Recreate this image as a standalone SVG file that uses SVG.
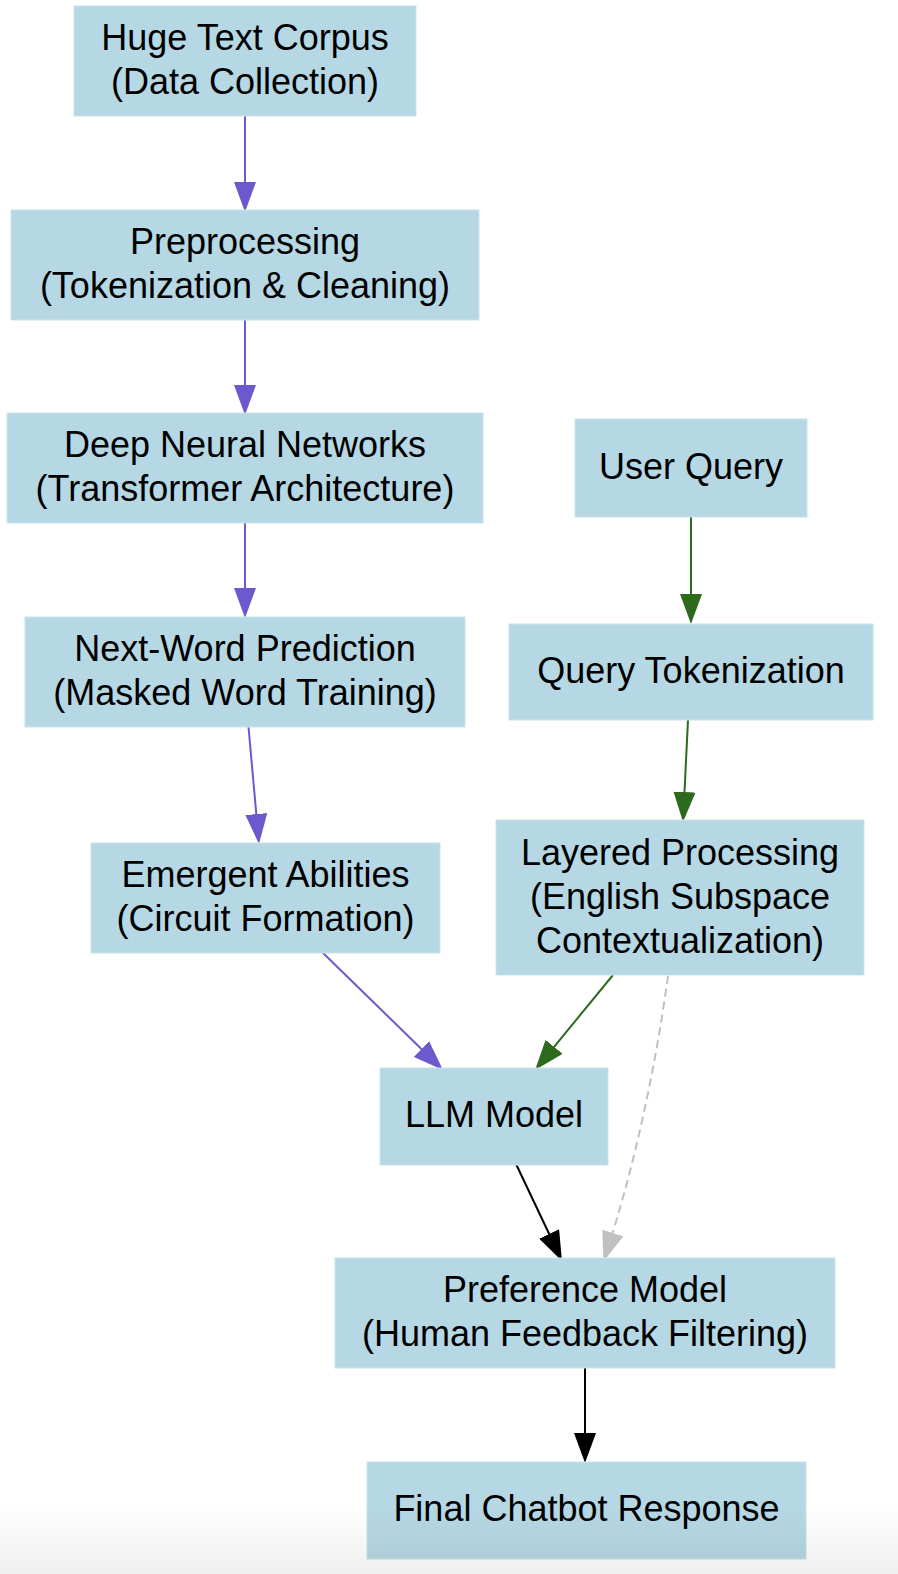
<svg xmlns="http://www.w3.org/2000/svg" width="898" height="1574" viewBox="0 0 898 1574">
  <defs>
    <style>
      .node rect { fill: #b6d8e4; stroke: #c9e3ec; stroke-width: 1; }
      .node text { font-family: "Liberation Sans", Arial, Helvetica, sans-serif; font-size: 36px; fill: #000; text-anchor: middle; }
      .edge { fill: none; stroke-width: 2; }
      .train { stroke: #6a5acd; }
      .query { stroke: #2e6a1e; }
      .plain { stroke: #000; }
      .hint { stroke: #c0c0c0; stroke-dasharray: 8 5; }
    </style>
    <marker id="ah-train" viewBox="0 -11 30 22" markerUnits="userSpaceOnUse" markerWidth="30" markerHeight="22" refX="20" refY="0" orient="auto">
      <path d="M0,-11 L30,0 L0,11 z" fill="#6a5acd"/>
    </marker>
    <marker id="ah-query" viewBox="0 -11 30 22" markerUnits="userSpaceOnUse" markerWidth="30" markerHeight="22" refX="20" refY="0" orient="auto">
      <path d="M0,-11 L30,0 L0,11 z" fill="#2e6a1e"/>
    </marker>
    <marker id="ah-plain" viewBox="0 -11 30 22" markerUnits="userSpaceOnUse" markerWidth="30" markerHeight="22" refX="20" refY="0" orient="auto">
      <path d="M0,-11 L30,0 L0,11 z" fill="#000"/>
    </marker>
    <marker id="ah-hint" viewBox="0 -11 30 22" markerUnits="userSpaceOnUse" markerWidth="30" markerHeight="22" refX="20" refY="0" orient="auto">
      <path d="M0,-11 L30,0 L0,11 z" fill="#c0c0c0"/>
    </marker>
    <linearGradient id="fade" x1="0" y1="0" x2="0" y2="1">
      <stop offset="0" stop-color="#000" stop-opacity="0"/>
      <stop offset="1" stop-color="#000" stop-opacity="0.065"/>
    </linearGradient>
  </defs>

  <rect x="0" y="0" width="898" height="1574" fill="#ffffff"/>

  <!-- connectors -->
  <g id="edges">
    <path class="edge train" d="M245,116 L245,202" marker-end="url(#ah-train)"/>
    <path class="edge train" d="M245,320 L245,405" marker-end="url(#ah-train)"/>
    <path class="edge train" d="M245,523 L245,608" marker-end="url(#ah-train)"/>
    <path class="edge train" d="M248.5,727 L258.1,834" marker-end="url(#ah-train)"/>
    <path class="edge train" d="M322,952 L435.8,1063" marker-end="url(#ah-train)"/>
    <path class="edge query" d="M691,517 L691,614" marker-end="url(#ah-query)"/>
    <path class="edge query" d="M688,720 L683.5,812" marker-end="url(#ah-query)"/>
    <path class="edge query" d="M613,975 L541.4,1062.3" marker-end="url(#ah-query)"/>
    <path class="edge hint" d="M668,976 C655.8,1066 634.5,1166.5 606.6,1252" marker-end="url(#ah-hint)"/>
    <path class="edge plain" d="M516.5,1165 L557.7,1252" marker-end="url(#ah-plain)"/>
    <path class="edge plain" d="M585,1368 L585,1453" marker-end="url(#ah-plain)"/>
  </g>

  <!-- training pipeline -->
  <g id="corpus" class="node">
    <rect x="74" y="6" width="342" height="110"/>
    <text x="245" y="49.5">Huge Text Corpus</text>
    <text x="245" y="93.5">(Data Collection)</text>
  </g>
  <g id="preprocessing" class="node">
    <rect x="11" y="210" width="468" height="110"/>
    <text x="245" y="253.5">Preprocessing</text>
    <text x="245" y="297.5">(Tokenization &amp; Cleaning)</text>
  </g>
  <g id="dnn" class="node">
    <rect x="7" y="413" width="476" height="110"/>
    <text x="245" y="456.5">Deep Neural Networks</text>
    <text x="245" y="500.5">(Transformer Architecture)</text>
  </g>
  <g id="nextword" class="node">
    <rect x="25" y="617" width="440" height="110"/>
    <text x="245" y="660.5">Next-Word Prediction</text>
    <text x="245" y="704.5">(Masked Word Training)</text>
  </g>
  <g id="emergent" class="node">
    <rect x="91" y="843" width="349" height="110"/>
    <text x="265.5" y="886.5">Emergent Abilities</text>
    <text x="265.5" y="930.5">(Circuit Formation)</text>
  </g>

  <!-- query path -->
  <g id="userquery" class="node">
    <rect x="575" y="419" width="232" height="98"/>
    <text x="691" y="479">User Query</text>
  </g>
  <g id="querytok" class="node">
    <rect x="509" y="624" width="364" height="96"/>
    <text x="691" y="683">Query Tokenization</text>
  </g>
  <g id="layered" class="node">
    <rect x="496" y="820" width="368" height="155"/>
    <text x="680" y="865">Layered Processing</text>
    <text x="680" y="909">(English Subspace</text>
    <text x="680" y="953">Contextualization)</text>
  </g>

  <!-- model and output -->
  <g id="llm" class="node">
    <rect x="380" y="1068" width="228" height="97"/>
    <text x="494" y="1127">LLM Model</text>
  </g>
  <g id="preference" class="node">
    <rect x="335" y="1258" width="500" height="110"/>
    <text x="585" y="1301.5">Preference Model</text>
    <text x="585" y="1345.5">(Human Feedback Filtering)</text>
  </g>
  <g id="final" class="node">
    <rect x="367" y="1462" width="439" height="97"/>
    <text x="586.5" y="1521">Final Chatbot Response</text>
  </g>

  <!-- soft shading along the lower edge -->
  <rect x="0" y="1505" width="898" height="69" fill="url(#fade)" pointer-events="none"/>
</svg>
